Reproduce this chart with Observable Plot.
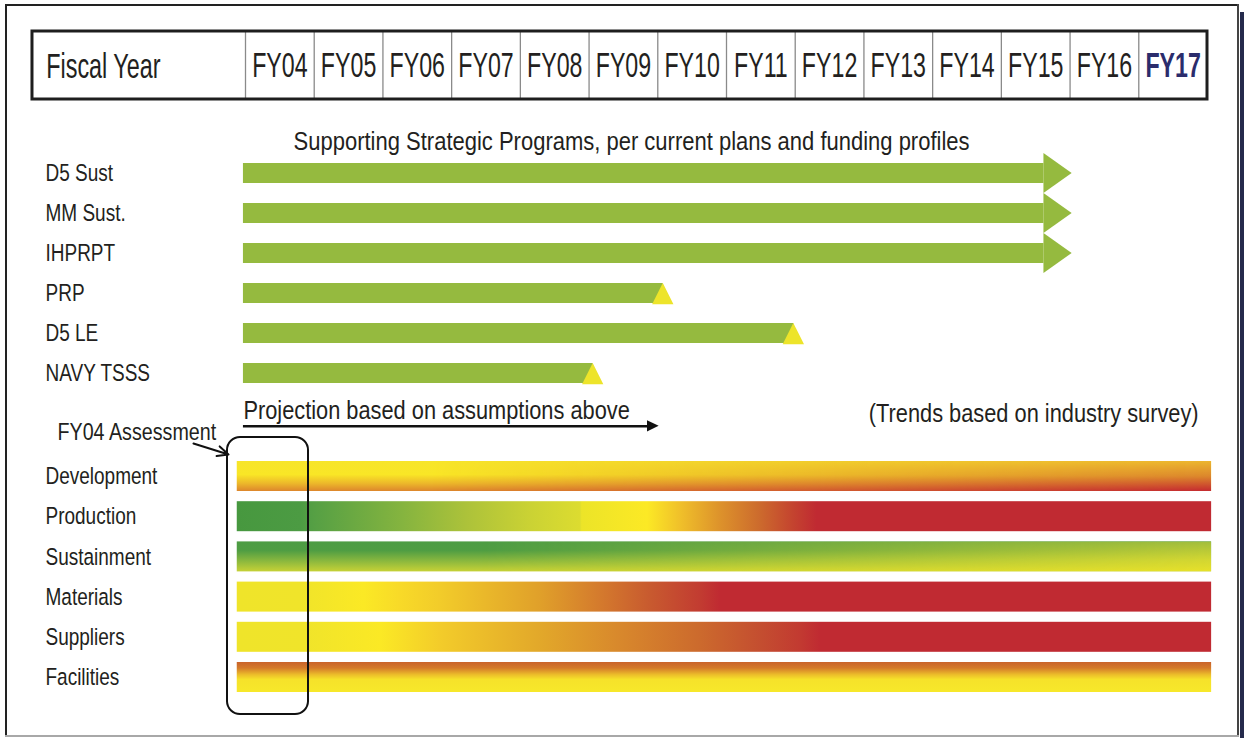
<!DOCTYPE html>
<html>
<head>
<meta charset="utf-8">
<script src="https://cdn.jsdelivr.net/npm/d3@7"></script>
<script src="https://cdn.jsdelivr.net/npm/@observablehq/plot@0.6"></script>
<style>
  html, body { margin: 0; padding: 0; background: #fff; }
  #wrap { position: relative; width: 1244px; height: 738px; overflow: hidden; background: #fff; }
  #wrap svg { position: absolute; left: 0; top: 0; }
  .edge { position: absolute; }
</style>
</head>
<body>
<div id="wrap"></div>
<script>
// ---------------- DATA ----------------
const fiscalYears = ["FY04","FY05","FY06","FY07","FY08","FY09","FY10","FY11","FY12","FY13","FY14","FY15","FY16","FY17"];
const fiscalYearStart = [2004,2005,2006,2007,2008,2009,2010,2011,2012,2013,2014,2015,2016,2017];
const highlightYear = "FY17";
const headerLabel = "Fiscal Year";

const programsTitle = "Supporting Strategic Programs, per current plans and funding profiles";
const programs = ["D5 Sust", "MM Sust.", "IHPRPT", "PRP", "D5 LE", "NAVY TSSS"];
const programStart = [2003.97, 2003.97, 2003.97, 2003.97, 2003.97, 2003.97];
const programEnd = [2016.03, 2016.03, 2016.03, 2010.08, 2011.98, 2009.06];
const programEndMark = ["arrow", "arrow", "arrow", "milestone", "milestone", "milestone"];

const projectionLabel = "Projection based on assumptions above";
const projectionStart = 2003.97;
const projectionEnd = 2010.02;
const trendsLabel = "(Trends based on industry survey)";

const assessmentLabel = "FY04 Assessment";
const assessmentYear = 2004;
const areas = ["Development", "Production", "Sustainment", "Materials", "Suppliers", "Facilities"];
const areaStart = [2003.88, 2003.88, 2003.88, 2003.88, 2003.88, 2003.88];
const areaEnd = [2018.06, 2018.06, 2018.06, 2018.06, 2018.06, 2018.06];

// ---------------- STYLE / LAYOUT ----------------
const font = "'Liberation Sans', Arial, Helvetica, sans-serif";
const ink = "#231f20";
const green = "#95ba3f";
const yellow = "#ede42a";
const navy = "#2b2c6c";

// font sizes (also used to find the lettering groups for vertical stretching)
const FS = {header: 23.4, fy: 23.2, title: 22, note2: 21.8, label: 19, note: 19.7};

// rows: y unit = one program row (40px)
const L = {
  headerTop: -3.55, headerBottom: -1.85, headerText: -2.68, headerLeft: 2000.9, headerRight: 2018,
  title: -0.78, titleX: 2004.7,
  projText: 5.95, projLine: 6.32, trends: 6.02, trendsX: 2017.87,
  note: 6.48, noteArrow: [2003.243, 6.75, 2003.753, 7.025],
  box: [6.6, 13.525], boxLeft: 0.262, boxRight: 0.917,
  areaFirst: 7.575, areaStep: 1.005, areaHalf: 0.375,
  barHalf: 0.25, headHalf: 0.5, headLen: 0.41,
  msHalfW: 0.155, msTop: 0.25, msBottom: 0.28
};

const gradients = [
  { dir: "v", stops: [[0,"#f7e52a"],[0.45,"#f9e626"],[0.75,"#ecb72a"],[1,"#dd862c"]],
    overlay: [[0,"#ecb52f"],[0.5,"#dc872c"],[1,"#c42a30"]], mask: [[0,0],[0.2,0],[1,1]] },
  { dir: "h", stops: [[0,"#47983f"],[0.065,"#4c9b43"],[0.08,"#56a044"],[0.17,"#85b43f"],[0.235,"#acc23a"],
      [0.3,"#cad234"],[0.352,"#dcdc30"],[0.354,"#ece428"],[0.421,"#fce925"],[0.455,"#f0c02a"],
      [0.496,"#dd922b"],[0.537,"#cc6a2d"],[0.571,"#c4432f"],[0.595,"#c02a32"],[1,"#c02a32"]] },
  { dir: "v", stops: [[0,"#4d9c44"],[0.3,"#4f9d43"],[0.65,"#8ab83e"],[1,"#c6d136"]],
    overlay: [[0,"#a2bd3c"],[0.6,"#d2d632"],[1,"#e6e02a"]], mask: [[0,0],[0.25,0],[1,1]] },
  { dir: "h", stops: [[0,"#efe42a"],[0.065,"#f0e42a"],[0.13,"#fbe925"],[0.167,"#f8da28"],[0.208,"#f2cc2a"],
      [0.311,"#e0a02a"],[0.373,"#d47a2d"],[0.424,"#c85a2f"],[0.475,"#c23c31"],[0.496,"#c02a32"],[1,"#c02a32"]] },
  { dir: "h", stops: [[0,"#efe42a"],[0.07,"#f0e42a"],[0.147,"#fbe925"],[0.208,"#f3cc2a"],[0.311,"#e2a82a"],
      [0.393,"#d8882c"],[0.475,"#cc6a2d"],[0.537,"#c44e30"],[0.578,"#c23a31"],[0.599,"#c02a32"],[1,"#c02a32"]] },
  { dir: "v", stops: [[0,"#c9632b"],[0.2,"#d47a2a"],[0.42,"#ecbd2a"],[0.58,"#f6e22a"],[1,"#f7e82a"]] }
];

// ---------------- DERIVED TABLES ----------------
const progRows = programs.map((name, i) => ({name, i, start: programStart[i], end: programEnd[i], kind: programEndMark[i]}));
const arrowHeads = progRows.filter(d => d.kind === "arrow").flatMap(d => [
  {id: d.name, x: d.end - L.headLen, y1: d.i - L.headHalf, y2: d.i + L.headHalf},
  {id: d.name, x: d.end, y1: d.i, y2: d.i}
]);
const milestones = progRows.filter(d => d.kind === "milestone").flatMap(d => [
  {id: d.name, y: d.i - L.msTop, x1: d.end, x2: d.end},
  {id: d.name, y: d.i + L.msBottom, x1: d.end - L.msHalfW, x2: d.end + L.msHalfW}
]);
const projHead = [
  {x: projectionEnd - 0.17, y1: L.projLine - 0.14, y2: L.projLine + 0.14},
  {x: projectionEnd, y1: L.projLine, y2: L.projLine}
];
const areaRows = areas.map((name, i) => ({name, i, start: areaStart[i], end: areaEnd[i], y: L.areaFirst + L.areaStep * i}));
const fyRows = fiscalYears.map((label, i) => ({label, start: fiscalYearStart[i]}));

// ---------------- PLOT ----------------
const marks = [
  // header table
  Plot.rect([0], {x1: L.headerLeft, x2: L.headerRight, y1: L.headerTop, y2: L.headerBottom, fill: "white"}),
  Plot.ruleX(fyRows, {x: "start", y1: L.headerTop, y2: L.headerBottom, stroke: "#8a8a8a", strokeWidth: 1.3}),
  Plot.rect([0], {x1: L.headerLeft, x2: L.headerRight, y1: L.headerTop, y2: L.headerBottom, fill: "none", stroke: "#1e1e1e", strokeWidth: 3}),
  Plot.text([headerLabel], {x: L.headerLeft + 0.2, y: L.headerText, text: d => d, textAnchor: "start",
    fontSize: FS.header, fill: ink, fontFamily: font}),
  Plot.text(fyRows.filter(d => d.label !== highlightYear), {x: d => d.start + 0.5, y: L.headerText, text: "label",
    fontSize: FS.fy, fill: ink, fontFamily: font}),
  Plot.text(fyRows.filter(d => d.label === highlightYear), {x: d => d.start + 0.5, y: L.headerText, text: "label",
    fontSize: FS.fy, fill: navy, fontWeight: "bold", fontFamily: font}),

  // programs
  Plot.text([programsTitle], {x: L.titleX, y: L.title, text: d => d, textAnchor: "start", fontSize: FS.title, fill: ink, fontFamily: font}),
  Plot.rect(progRows, {x1: "start", x2: d => d.kind === "arrow" ? d.end - L.headLen : d.end,
    y1: d => d.i - L.barHalf, y2: d => d.i + L.barHalf, fill: green}),
  Plot.areaY(arrowHeads, {x: "x", y1: "y1", y2: "y2", z: "id", fill: green}),
  Plot.areaX(milestones, {y: "y", x1: "x1", x2: "x2", z: "id", fill: yellow}),
  Plot.text(progRows, {y: "i", text: "name", frameAnchor: "left", dx: 45, textAnchor: "start",
    fontSize: FS.label, fill: ink, fontFamily: font}),

  // projection
  Plot.text([projectionLabel], {x: projectionStart, y: L.projText, text: d => d, textAnchor: "start", fontSize: FS.note2, fill: ink, fontFamily: font}),
  Plot.ruleY([L.projLine], {x1: projectionStart, x2: projectionEnd - 0.15, stroke: "#111", strokeWidth: 2.5}),
  Plot.areaY(projHead, {x: "x", y1: "y1", y2: "y2", fill: "#111"}),
  Plot.text([trendsLabel], {x: L.trendsX, y: L.trends, text: d => d, textAnchor: "end", fontSize: FS.note2, fill: ink, fontFamily: font}),

  // assessment
  Plot.text([assessmentLabel], {frameAnchor: "left", y: L.note, text: d => d, dx: 57, textAnchor: "start",
    fontSize: FS.note, fill: ink, fontFamily: font}),
  Plot.arrow([0], {x1: L.noteArrow[0], y1: L.noteArrow[1], x2: L.noteArrow[2], y2: L.noteArrow[3],
    stroke: "#111", strokeWidth: 2, headLength: 9, headAngle: 50}),
  ...areaRows.map(d => Plot.rect([d], {x1: "start", x2: "end", y1: r => r.y - L.areaHalf, y2: r => r.y + L.areaHalf,
    fill: `url(#area-grad-${d.i})`})),
  ...areaRows.filter(d => gradients[d.i].overlay).map(d => Plot.rect([d], {x1: "start", x2: "end",
    y1: r => r.y - L.areaHalf, y2: r => r.y + L.areaHalf, fill: `url(#area-over-${d.i})`})),
  Plot.text(areaRows, {y: "y", text: "name", frameAnchor: "left", dx: 45, textAnchor: "start",
    fontSize: FS.label, fill: ink, fontFamily: font}),
  Plot.rect([assessmentYear], {x1: d => d - L.boxLeft, x2: d => d + L.boxRight, y1: L.box[0], y2: L.box[1],
    rx: 13, fill: "none", stroke: "#111", strokeWidth: 2})
];

const svg = Plot.plot({
  width: 1244, height: 738,
  margin: 0,
  x: {domain: [2004, 2018], range: [245, 1207], axis: null},
  y: {domain: [-4.325, 14.125], range: [0, 738], axis: null},
  style: {background: "transparent", fontFamily: font},
  marks
});

// gradient definitions
const defs = d3.select(svg).insert("defs", ":first-child");
function addGradient(id, dir, stops) {
  const g = defs.append("linearGradient").attr("id", id)
    .attr("x1", 0).attr("y1", 0).attr("x2", dir === "h" ? 1 : 0).attr("y2", dir === "h" ? 0 : 1);
  stops.forEach(([o, c]) => g.append("stop").attr("offset", o).attr("stop-color", c));
}
gradients.forEach((g, i) => {
  addGradient(`area-grad-${i}`, g.dir, g.stops);
  if (g.overlay) {
    addGradient(`area-over-${i}`, "v", g.overlay);
    const mg = defs.append("linearGradient").attr("id", `area-maskgrad-${i}`).attr("x1", 0).attr("y1", 0).attr("x2", 1).attr("y2", 0);
    g.mask.forEach(([o, v]) => mg.append("stop").attr("offset", o).attr("stop-color", "white").attr("stop-opacity", v));
    const m = defs.append("mask").attr("id", `area-mask-${i}`).attr("maskContentUnits", "objectBoundingBox");
    m.append("rect").attr("width", 1).attr("height", 1).attr("fill", `url(#area-maskgrad-${i})`);
    svg.querySelectorAll("g, rect").forEach(el => {
      if (el.getAttribute("fill") === `url(#area-over-${i})`) {
        const rects = el.tagName.toLowerCase() === "rect" ? [el] : el.querySelectorAll("rect");
        rects.forEach(r => r.setAttribute("mask", `url(#area-mask-${i})`));
      }
    });
  }
});

// vertical stretch of lettering (reference type is tall / condensed)
const stretchBySize = new Map([[FS.header, 1.5], [FS.fy, 1.5], [FS.label, 1.27], [FS.note, 1.2], [FS.title, 1.14], [FS.note2, 1.14]]);
svg.querySelectorAll("text").forEach(t => {
  let el = t, fs = null;
  while (el && el !== svg) {
    const a = el.getAttribute && el.getAttribute("font-size");
    if (a) { fs = parseFloat(a); break; }
    el = el.parentNode;
  }
  const k = stretchBySize.get(fs);
  if (!k) return;
  const tr = t.getAttribute("transform");
  if (tr) t.setAttribute("transform", tr + ` scale(1,${k})`);
  else {
    const x = +t.getAttribute("x") || 0, y = +t.getAttribute("y") || 0;
    t.removeAttribute("x"); t.removeAttribute("y");
    t.setAttribute("transform", `translate(${x},${y}) scale(1,${k})`);
  }
});

const wrap = document.getElementById("wrap");
wrap.appendChild(svg);

// page frame
[
  {l: 5, t: 4, w: 2, h: 733, c: "#222"},
  {l: 5, t: 4, w: 1234, h: 2, c: "#222"},
  {l: 1237, t: 4, w: 1.5, h: 733, c: "#444"},
  {l: 1240, t: 12, w: 4, h: 726, c: "#252a4c"},
  {l: 5, t: 735, w: 1234, h: 2, c: "#a8a8a8"}
].forEach(e => {
  const d = document.createElement("div");
  d.className = "edge";
  Object.assign(d.style, {left: e.l + "px", top: e.t + "px", width: e.w + "px", height: e.h + "px", background: e.c});
  wrap.appendChild(d);
});
</script>
</body>
</html>
